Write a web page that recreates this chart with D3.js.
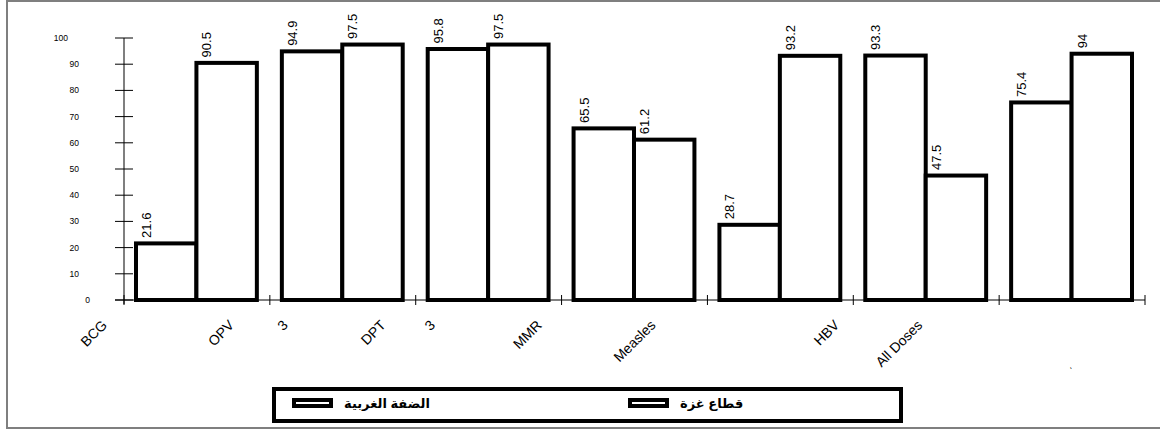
<!DOCTYPE html>
<html>
<head>
<meta charset="utf-8">
<script src="https://cdn.jsdelivr.net/npm/d3@7"></script>
<style>
  body { margin: 0; background: #fff; }
  svg { display: block; font-family: "Liberation Sans", Arial, "DejaVu Sans", sans-serif; }
</style>
</head>
<body>
<svg id="chart" width="1160" height="430"></svg>
<script>
// data
const categories = ["BCG", "OPV 3", "DPT 3", "MMR", "Measles", "HBV", "All Doses"];
const seriesNames = ["الضفة الغربية", "قطاع غزة"];
const westBank = [21.6, 94.9, 95.8, 65.5, 28.7, 93.3, 75.4];
const gaza = [90.5, 97.5, 97.5, 61.2, 93.2, 47.5, 94];
const yTicks = [0, 10, 20, 30, 40, 50, 60, 70, 80, 90, 100];
const tickLabels = ["BCG", "OPV", "3", "DPT", "3", "MMR", "Measles", "HBV", "All Doses", "،"];

// where the category texts end up, in group units (they drift off the groups in the original)
const labelSlots = [-0.11, 0.76, 1.13, 1.80, 2.14, 2.87, 3.65, 4.91, 5.48, 6.50];

const svg = d3.select('#chart');

// grey outer frame
svg.append('rect')
    .attr('x', 7).attr('y', 1)
    .attr('width', 1170).attr('height', 427)
    .attr('fill', 'none')
    .attr('stroke', '#7f7f7f')
    .attr('stroke-width', 2);

const x0 = d3.scaleBand().domain(categories).range([124, 1145]);
const x1 = d3.scaleBand().domain([0, 1]).range([12, x0.bandwidth() - 13]);
const y = d3.scaleLinear().domain([0, 100]).range([300, 38]);
const slot = d3.scaleLinear().domain([0, categories.length]).range([124, 1145]);

// y axis
svg.append('line')
    .attr('x1', 124).attr('x2', 124)
    .attr('y1', y(100)).attr('y2', y(0) + 4)
    .attr('stroke', '#555').attr('stroke-width', 1.5);

svg.selectAll('.ytick')
    .data(yTicks)
    .enter()
    .append('line')
    .attr('class', 'ytick')
    .attr('x1', 115).attr('x2', 133)
    .attr('y1', d => y(d)).attr('y2', d => y(d))
    .attr('stroke', '#000').attr('stroke-width', 1);

svg.selectAll('.ylabel')
    .data(yTicks)
    .enter()
    .append('text')
    .attr('class', 'ylabel')
    .attr('x', d => 90 - (String(d).length - 1) * 11)
    .attr('y', d => y(d))
    .attr('dy', '0.35em')
    .attr('text-anchor', 'end')
    .attr('font-size', '8.5px')
    .attr('fill', '#000')
    .text(d => d);

// bars
const rows = categories.map((c, i) => ({ cat: c, vals: [westBank[i], gaza[i]] }));

const groups = svg.append('g').selectAll('g')
    .data(rows)
    .enter()
    .append('g')
    .attr('transform', d => `translate(${x0(d.cat)},0)`);

groups.selectAll('rect')
    .data(d => d.vals.map((v, k) => ({ k, v })))
    .enter()
    .append('rect')
    .attr('x', d => x1(d.k))
    .attr('y', d => y(d.v))
    .attr('width', x1.bandwidth())
    .attr('height', d => y(0) - y(d.v))
    .attr('fill', '#fff')
    .attr('stroke', '#000')
    .attr('stroke-width', 4);

groups.selectAll('.val')
    .data(d => d.vals.map((v, k) => ({ k, v })))
    .enter()
    .append('text')
    .attr('class', 'val')
    .attr('transform', d => `translate(${x1(d.k) + 15},${y(d.v) - 5.5}) rotate(-90)`)
    .attr('font-size', '13px')
    .attr('fill', '#000')
    .text(d => d.v);

// x axis with group boundary ticks
svg.append('line')
    .attr('x1', 115).attr('x2', 1145)
    .attr('y1', y(0)).attr('y2', y(0))
    .attr('stroke', '#000').attr('stroke-width', 1);

svg.selectAll('.xtick')
    .data(d3.range(categories.length + 1))
    .enter()
    .append('line')
    .attr('class', 'xtick')
    .attr('x1', d => slot(d)).attr('x2', d => slot(d))
    .attr('y1', y(0) - 5).attr('y2', y(0) + 5)
    .attr('stroke', '#000').attr('stroke-width', 1);

// slanted category texts
const xl = svg.append('g').attr('class', 'xlabels');
tickLabels.forEach((t, i) => {
    const last = i === tickLabels.length - 1;
    const lx = slot(labelSlots[i]);
    const ly = last ? 368 : 326;
    xl.append('text')
        .attr('x', lx)
        .attr('y', ly)
        .attr('transform', `rotate(-45 ${lx} ${ly})`)
        .attr('text-anchor', 'end')
        .attr('font-size', last ? '7px' : '14px')
        .attr('fill', '#000')
        .text(t);
});

// legend
const legend = svg.append('g');
legend.append('rect')
    .attr('x', 274).attr('y', 389)
    .attr('width', 627).attr('height', 32)
    .attr('fill', '#fff')
    .attr('stroke', '#000')
    .attr('stroke-width', 4);

const legendX = [294, 630];
const item = legend.selectAll('.item')
    .data(seriesNames)
    .enter()
    .append('g')
    .attr('class', 'item')
    .attr('transform', (d, i) => `translate(${legendX[i]},0)`);

item.append('rect')
    .attr('x', 0).attr('y', 400)
    .attr('width', 37).attr('height', 6)
    .attr('fill', '#fff')
    .attr('stroke', '#000')
    .attr('stroke-width', 4);

item.append('text')
    .attr('x', 50).attr('y', 403)
    .attr('dy', '0.35em')
    .attr('text-anchor', 'start')
    .attr('font-size', '13px')
    .attr('font-weight', 'bold')
    .attr('fill', '#000')
    .text(d => d);
</script>
</body>
</html>
